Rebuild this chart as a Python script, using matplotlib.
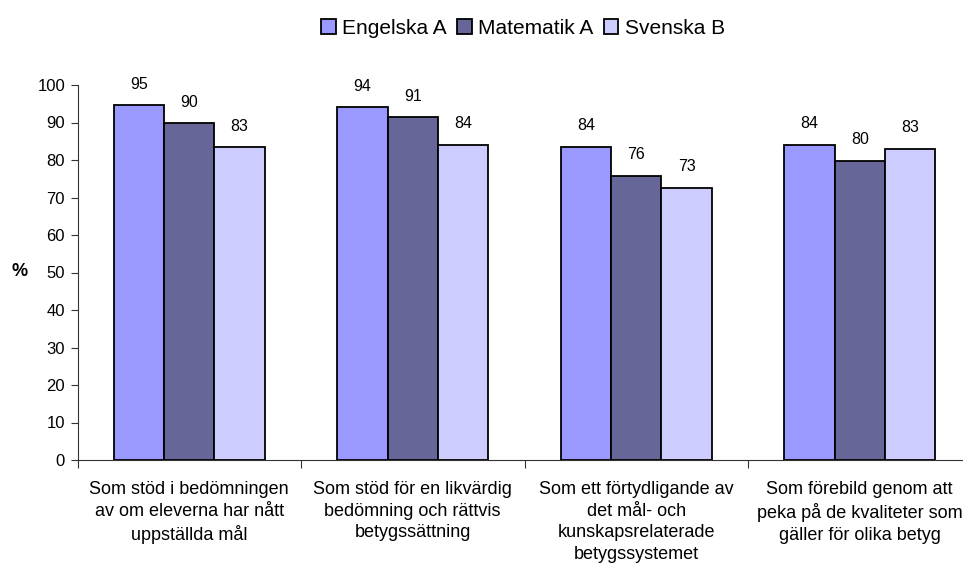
import matplotlib
matplotlib.use("Agg")
import matplotlib.pyplot as plt
import numpy as np

plt.rcParams['font.family'] = ['Liberation Sans', 'DejaVu Sans']

# categories (x labels) and series values
categories = [
    "Som stöd i bedömningen\nav om eleverna har nått\nuppställda mål",
    "Som stöd för en likvärdig\nbedömning och rättvis\nbetygssättning",
    "Som ett förtydligande av\ndet mål- och\nkunskapsrelaterade\nbetygssystemet",
    "Som förebild genom att\npeka på de kvaliteter som\ngäller för olika betyg",
]
series_names = ["Engelska A", "Matematik A", "Svenska B"]
engelska = [94.6, 94.1, 83.6, 84.0]
matematik = [89.8, 91.4, 75.8, 79.8]
svenska = [83.4, 84.0, 72.6, 83.0]
colors = ["#9999FF", "#666699", "#CCCCFF"]

fig = plt.figure(figsize=(9.63, 5.67), dpi=100)
ax = fig.add_axes([77.5/963, 1-460/567, 4*223.5/963, 375/567])

x = np.arange(len(categories))
w = 0.225
for i, (name, vals) in enumerate(zip(series_names, [engelska, matematik, svenska])):
    pos = x + (i-1)*w
    bars = ax.bar(pos, vals, w, color=colors[i], edgecolor="black", linewidth=1.3, label=name)
    for b, v in zip(bars, vals):
        ax.text(b.get_x()+b.get_width()/2, v+3.6, "%.0f" % v, ha="center", va="bottom", fontsize=11.5)

ax.set_xlim(-0.5, len(categories)-0.5)
ax.set_ylim(0, 100)
ax.set_yticks(np.arange(0, 101, 10))
ax.tick_params(axis='y', labelsize=12, length=5, width=0.8, color="#333333", pad=4)

# ticks at the category boundaries, labels at the centres
ax.set_xticks(np.arange(len(categories)+1)-0.5)
ax.set_xticklabels([])
ax.tick_params(axis='x', which='major', length=6, width=0.8, color="#333333")
ax.set_xticks(x, minor=True)
ax.set_xticklabels(categories, minor=True, fontsize=13, linespacing=1.36)
ax.tick_params(axis='x', which='minor', length=0, pad=15)

for s in ["top", "right"]:
    ax.spines[s].set_visible(False)
for s in ["left", "bottom"]:
    ax.spines[s].set_color("#333333")
    ax.spines[s].set_linewidth(0.8)

fig.text(20/963, 1-272/567, "%", fontsize=13, fontweight="bold", ha="center", va="center")

handles, labels = ax.get_legend_handles_labels()
fig.legend(handles, labels, loc="center", bbox_to_anchor=(523/963, 1-28/567), ncol=3,
           frameon=False, fontsize=15, handlelength=0.7, handleheight=0.7,
           handletextpad=0.3, columnspacing=0.5)

fig.savefig("out.png", dpi=100)
